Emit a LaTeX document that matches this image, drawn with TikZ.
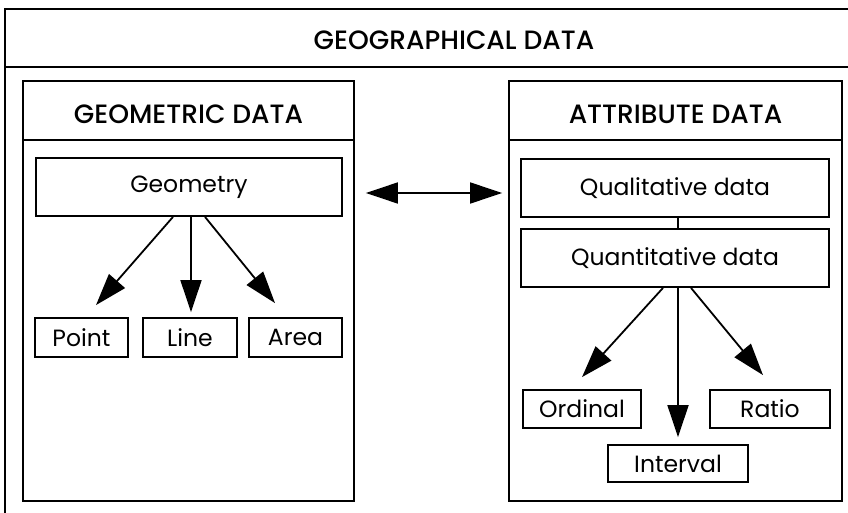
\documentclass[tikz,border=0pt]{standalone}
\usepackage{fontspec}
\setmainfont{Poppins}
\newfontfamily\headfont{Poppins}[UprightFont=* Medium]
\usepackage{tikz}
\usetikzlibrary{arrows.meta, positioning}

\begin{document}
\begin{tikzpicture}[
  x=1pt, y=-1pt,
  frame/.style   = {line width=1.8pt},
  panel/.style   = {rectangle, draw, line width=1.8pt,
                    minimum height=420pt, inner sep=0pt},
  header/.style  = {rectangle, draw, line width=1.8pt,
                    minimum height=59pt, inner sep=0pt,
                    text height=26pt, text depth=0pt,
                    font=\fontsize{26.5}{29}\headfont},
  box/.style     = {rectangle, draw, line width=1.8pt, inner sep=0pt,
                    font=\fontsize{23.5}{26}\selectfont},
  arr/.style     = {-{Triangle[length=32pt, width=21pt]}, line width=1.8pt},
  linkarr/.style = {{Triangle[length=32pt, width=21pt]}-{Triangle[length=32pt, width=21pt]},
                    line width=1.8pt},
]
  \useasboundingbox (0,0) rectangle (848,513);

  % Outer frame
  \draw[frame] (848,9) -- (5,9) -- (5,513);
  \draw[frame] (5,67) -- (848,67);
  \node[font=\fontsize{26.5}{29}\headfont] (geodata) at (454,40) {GEOGRAPHICAL DATA};

  % Panels
  \node[panel, minimum width=331pt] (geompanel) at (188.5,291) {};
  \node[header, minimum width=331pt] (geomhead) at (188.5,110.5) {GEOMETRIC DATA};
  \node[panel, minimum width=333pt] (attrpanel) at (675.5,291) {};
  \node[header, minimum width=333pt] (attrhead) at (675.5,110.5) {ATTRIBUTE DATA};

  % Geometric side
  \node[box, minimum width=306pt, minimum height=58pt] (geometry) at (189,187)   {Geometry};
  \node[box, minimum width=93pt,  minimum height=39pt] (point)    at (81.5,337.5) {Point};
  \node[box, minimum width=94pt,  minimum height=39pt] (line)     at (190,337.5)  {Line};
  \node[box, minimum width=93pt,  minimum height=39pt] (area)     at (295.5,337.5) {Area};

  \draw[arr] ([xshift=-16pt]geometry.south) -- ([xshift=14.5pt,yshift=12pt]point.north);
  \draw[arr] ([xshift=2pt]geometry.south)   -- ([xshift=1pt,yshift=5pt]line.north);
  \draw[arr] ([xshift=16pt]geometry.south)  -- ([xshift=-20.5pt,yshift=14pt]area.north);

  % Attribute side
  \node[box, minimum width=308pt, minimum height=58pt] (qual)     at (675,188)   {Qualitative data};
  \node[box, minimum width=308pt, minimum height=58pt] (quant)    at (675,258)   {Quantitative data};
  \node[box, minimum width=118pt, minimum height=38pt] (ordinal)  at (582,409)   {Ordinal};
  \node[box, minimum width=120pt, minimum height=38pt] (ratio)    at (770,409)   {Ratio};
  \node[box, minimum width=140pt, minimum height=37pt] (interval) at (678,463.5) {Interval};

  \draw[frame] ([xshift=3pt]qual.south) -- ([xshift=3pt]quant.north);
  \draw[arr] ([xshift=-12pt]quant.south) -- ([yshift=12pt]ordinal.north);
  \draw[arr] ([xshift=3pt]quant.south)   -- ([yshift=7pt]interval.north);
  \draw[arr] ([xshift=16pt]quant.south)  -- ([xshift=-7pt,yshift=14pt]ratio.north);

  % Link between the two panels
  \draw[linkarr, shorten <=11pt, shorten >=6pt]
    ([yshift=-5pt]geompanel.east |- qual.center) -- ([yshift=-5pt]attrpanel.west |- qual.center);
\end{tikzpicture}
\end{document}
